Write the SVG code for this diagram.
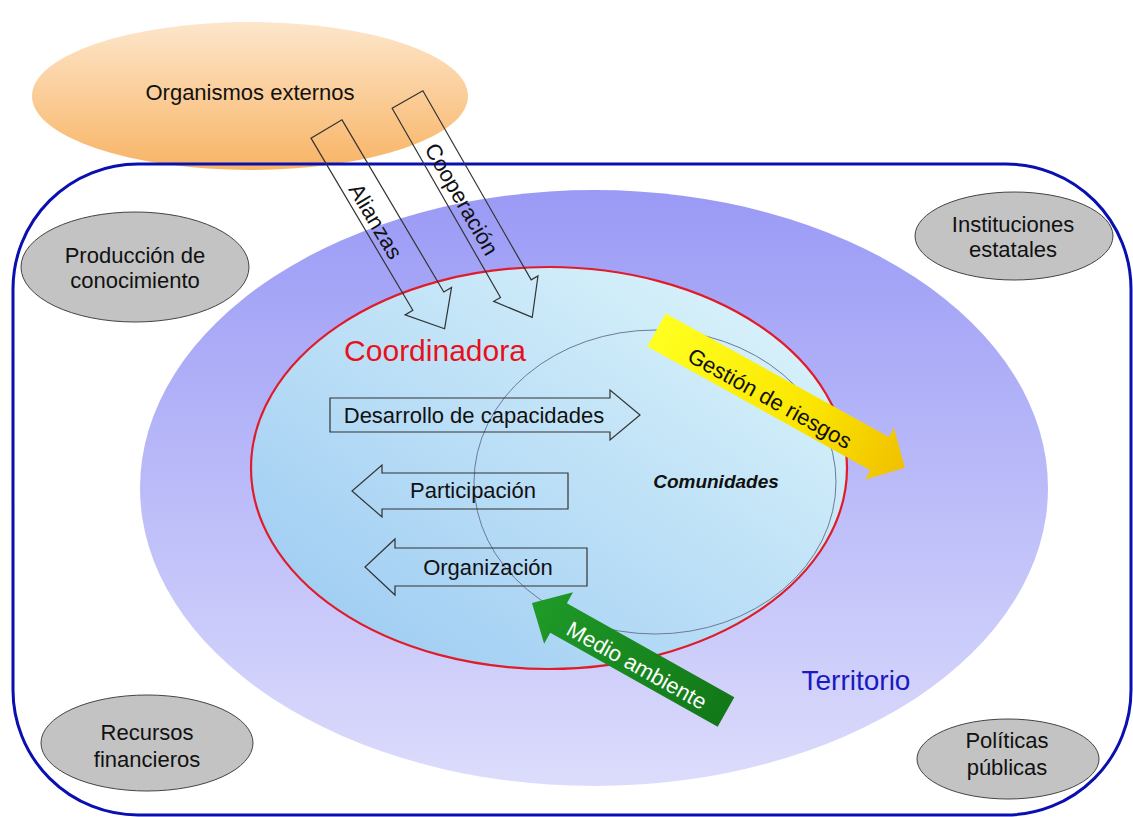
<svg xmlns="http://www.w3.org/2000/svg" width="1133" height="817" viewBox="0 0 1133 817">
<defs>
<linearGradient id="gOrange" x1="0" y1="0" x2="0" y2="1">
<stop offset="0" stop-color="#fde6cb"/>
<stop offset="1" stop-color="#f8b465"/>
</linearGradient>
<linearGradient id="gPurple" x1="0" y1="0" x2="0" y2="1">
<stop offset="0" stop-color="#9a9af6"/>
<stop offset="1" stop-color="#dcdcfc"/>
</linearGradient>
<linearGradient id="gBlue" x1="0" y1="1" x2="1" y2="0">
<stop offset="0" stop-color="#98c8f2"/>
<stop offset="1" stop-color="#e0f7fb"/>
</linearGradient>
<linearGradient id="gYellow" x1="0" y1="0" x2="1" y2="0">
<stop offset="0" stop-color="#ffff20"/>
<stop offset="0.6" stop-color="#fbe600"/>
<stop offset="1" stop-color="#f0c000"/>
</linearGradient>
<linearGradient id="gGreen" x1="0" y1="0" x2="1" y2="0">
<stop offset="0" stop-color="#127818"/>
<stop offset="1" stop-color="#1f9a28"/>
</linearGradient>
</defs>
<style>
text{font-family:"Liberation Sans",Arial,sans-serif;fill:#111;}
.t{font-size:22px;text-anchor:middle;}
.grey{fill:#c3c3c3;stroke:#444;stroke-width:1;}
.hollow{fill:none;stroke:#333;stroke-width:1.2;}
</style>
<rect width="1133" height="817" fill="#fff"/>

<g id="organismos">
<ellipse cx="250" cy="96" rx="218" ry="74" fill="url(#gOrange)"/>
<text class="t" x="250" y="100">Organismos externos</text>
</g>

<g id="frame">
<rect x="13" y="164" width="1118" height="651" rx="125" ry="125" fill="none" stroke="#0a0fb0" stroke-width="3"/>
</g>

<g id="territorio">
<ellipse cx="594" cy="488" rx="454" ry="298" fill="url(#gPurple)"/>
<text x="856" y="690" style="font-size:28px;text-anchor:middle;fill:#1a1ac0">Territorio</text>
</g>

<g id="coordinadora">
<ellipse cx="549" cy="468" rx="298" ry="201" fill="url(#gBlue)" stroke="#e01c2a" stroke-width="2.2"/>
<text x="435" y="361" style="font-size:30px;text-anchor:middle;fill:#e8101a">Coordinadora</text>
</g>

<g id="comunidades">
<ellipse cx="655" cy="482" rx="181" ry="152" fill="none" stroke="#6d7a98" stroke-width="1"/>
<text x="716" y="488" style="font-size:19px;font-weight:bold;font-style:italic;text-anchor:middle">Comunidades</text>
</g>

<g id="produccion">
<ellipse class="grey" cx="135" cy="267" rx="114" ry="55"/>
<text class="t" x="135" y="263">Producción de</text>
<text class="t" x="135" y="288">conocimiento</text>
</g>
<g id="instituciones">
<ellipse class="grey" cx="1014" cy="236" rx="99" ry="44"/>
<text class="t" x="1013" y="232">Instituciones</text>
<text class="t" x="1013" y="257">estatales</text>
</g>
<g id="recursos">
<ellipse class="grey" cx="147" cy="743" rx="106" ry="48"/>
<text class="t" x="147" y="740">Recursos</text>
<text class="t" x="147" y="767">financieros</text>
</g>
<g id="politicas">
<ellipse class="grey" cx="1008" cy="759" rx="91" ry="40"/>
<text class="t" x="1007" y="748">Políticas</text>
<text class="t" x="1007" y="775">públicas</text>
</g>

<g id="connectors">
<g id="alianzas">
<polygon class="hollow" transform="translate(326.5,129) rotate(59.4)" points="0,-18 200,-18 200,-27 232,0 200,27 200,18 0,18"/>
<text class="t" transform="translate(376,221) rotate(59.4)" y="8">Alianzas</text>
</g>
<g id="cooperacion">
<polygon class="hollow" transform="translate(407.5,99.5) rotate(60.2)" points="0,-17.7 218,-17.7 218,-25.5 251,0 218,25.5 218,17.7 0,17.7"/>
<text class="t" transform="translate(462,199) rotate(60.2)" y="8">Cooperación</text>
</g>
<g id="desarrollo">
<polygon class="hollow" points="330,398 610,398 610,390 640,415 610,440 610,432 330,432"/>
<text class="t" x="474" y="423">Desarrollo de capacidades</text>
</g>
<g id="participacion">
<polygon class="hollow" points="568,473 382,473 382,465 352,491 382,517 382,509 568,509"/>
<text class="t" x="473" y="498">Participación</text>
</g>
<g id="organizacion">
<polygon class="hollow" points="587,548 395,548 395,539 365,567 395,595 395,586 587,586"/>
<text class="t" x="488" y="575">Organización</text>
</g>
<g id="gestion">
<polygon transform="translate(656.5,330) rotate(29)" fill="url(#gYellow)" points="0,-19 255,-19 255,-29.5 284,0 255,29.5 255,19 0,19"/>
<text class="t" transform="translate(770,398) rotate(29)" y="8">Gestión de riesgos</text>
</g>
<g id="medio">
<polygon transform="translate(726,712) rotate(209.3)" fill="url(#gGreen)" points="0,-17 192,-17 192,-29.5 222.5,0 192,29.5 192,17 0,17"/>
<text class="t" transform="translate(637,665) rotate(29.3)" y="8" style="fill:#fff">Medio ambiente</text>
</g>
</g>
</svg>
